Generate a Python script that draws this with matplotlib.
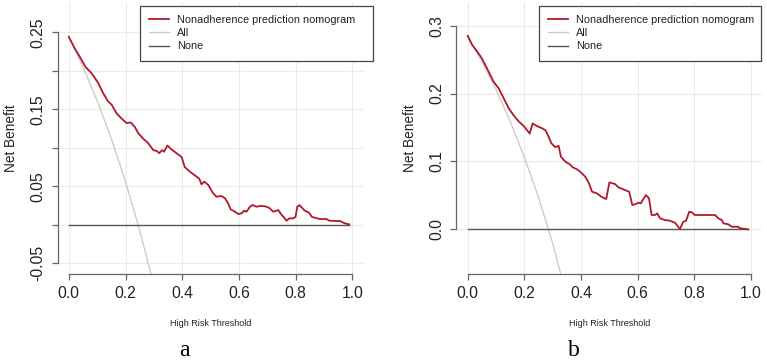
import matplotlib
matplotlib.use("Agg")
import matplotlib.pyplot as plt
import numpy as np

plt.rcParams['font.family'] = ['Liberation Sans', 'DejaVu Sans']

# ---------------- data ----------------
# Panel a
a_thr = [0.0, 0.021, 0.039, 0.059, 0.08, 0.104, 0.121, 0.139, 0.151, 0.168, 0.186, 0.204,
         0.218, 0.233, 0.245, 0.262, 0.28, 0.298, 0.31, 0.319, 0.329, 0.336, 0.348, 0.362,
         0.38, 0.398, 0.409, 0.427, 0.451, 0.46, 0.468, 0.478, 0.492, 0.509, 0.521, 0.539,
         0.551, 0.562, 0.571, 0.586, 0.598, 0.61, 0.618, 0.627, 0.639, 0.648, 0.662, 0.674,
         0.686, 0.698, 0.709, 0.721, 0.733, 0.739, 0.751, 0.759, 0.768, 0.778, 0.792, 0.80,
         0.806, 0.813, 0.821, 0.833, 0.848, 0.857, 0.868, 0.886, 0.909, 0.919, 0.945, 0.957,
         0.966, 0.974, 0.989]
a_model = [0.244, 0.229, 0.218, 0.205, 0.197, 0.184, 0.171, 0.160, 0.156, 0.145, 0.138, 0.132,
           0.133, 0.127, 0.119, 0.112, 0.106, 0.097, 0.096, 0.093, 0.097, 0.095, 0.103, 0.098,
           0.093, 0.088, 0.075, 0.069, 0.0625, 0.060, 0.0526, 0.056, 0.0517, 0.041, 0.0365, 0.0374,
           0.0344, 0.0279, 0.0201, 0.017, 0.014, 0.015, 0.0183, 0.017, 0.0235, 0.0257, 0.0235, 0.0244,
           0.0244, 0.0235, 0.0214, 0.017, 0.0183, 0.0192, 0.0127, 0.0097, 0.0053, 0.0084, 0.0084, 0.0105,
           0.0235, 0.0257, 0.0227, 0.0183, 0.0157, 0.0105, 0.0092, 0.0075, 0.0075, 0.0053, 0.0049, 0.0049,
           0.0032, 0.0019, 0.0006]
a_all_thr = [0.0, 0.05, 0.10, 0.15, 0.20, 0.25, 0.30]
a_all = [0.245, 0.205, 0.161, 0.112, 0.056, -0.007, -0.079]

# Panel b
b_thr = [0.0, 0.015, 0.033, 0.05, 0.068, 0.092, 0.109, 0.127, 0.145, 0.162, 0.18, 0.198,
         0.219, 0.229, 0.245, 0.262, 0.274, 0.283, 0.295, 0.309, 0.321, 0.329, 0.345, 0.359,
         0.371, 0.386, 0.397, 0.415, 0.427, 0.439, 0.456, 0.472, 0.489, 0.50, 0.52, 0.532,
         0.549, 0.57, 0.581, 0.594, 0.602, 0.611, 0.62, 0.629, 0.64, 0.649, 0.661, 0.669,
         0.679, 0.696, 0.714, 0.732, 0.749, 0.761, 0.771, 0.782, 0.791, 0.802, 0.82, 0.873,
         0.885, 0.897, 0.903, 0.92, 0.932, 0.955, 0.961, 0.99]
b_model = [0.285, 0.272, 0.262, 0.252, 0.237, 0.217, 0.208, 0.193, 0.178, 0.168, 0.159, 0.152,
           0.141, 0.156, 0.152, 0.149, 0.146, 0.139, 0.127, 0.121, 0.123, 0.107, 0.0996, 0.0962,
           0.0913, 0.0884, 0.0849, 0.0775, 0.0687, 0.0554, 0.053, 0.048, 0.0446, 0.0692, 0.0667, 0.0619,
           0.0589, 0.0554, 0.0358, 0.0373, 0.0392, 0.0383, 0.0446, 0.0505, 0.0457, 0.0211, 0.0211, 0.0236,
           0.0162, 0.0137, 0.0127, 0.0097, 0.0004, 0.0112, 0.0127, 0.0259, 0.025, 0.0211, 0.0211, 0.0211,
           0.0162, 0.0137, 0.0088, 0.0074, 0.0038, 0.0038, 0.0015, 0.0]
b_all_thr = [0.0, 0.05, 0.10, 0.15, 0.20, 0.25, 0.30, 0.35]
b_all = [0.285, 0.247, 0.206, 0.159, 0.106, 0.047, -0.021, -0.10]

none_thr = [0.0, 0.99]
none_val = [0.0, 0.0]

x_ticks = [0.0, 0.2, 0.4, 0.6, 0.8, 1.0]
a_yticks = [-0.05, 0.0, 0.05, 0.10, 0.15, 0.20, 0.25]
a_ylabels = ['-0.05', '', '0.05', '', '0.15', '', '0.25']
b_yticks = [0.0, 0.1, 0.2, 0.3]
b_ylabels = ['0.0', '0.1', '0.2', '0.3']

legend_labels = ['Nonadherence prediction nomogram', 'All', 'None']

# ---------------- figure ----------------
W, H = 767, 360
fig = plt.figure(figsize=(W / 100, H / 100), dpi=100)

RED = '#B2182B'
ALLC = '#C8C8C8'
NONEC = '#555555'
AXC = '#666666'
GRIDC = '#EBEBEB'


def px_axes(l, r, t, b):
    return fig.add_axes([l / W, 1 - b / H, (r - l) / W, (b - t) / H])


def style(ax, ylim, yticks, ylabels, ybounds):
    ax.set_xlim(-0.04, 1.04)
    ax.set_ylim(*ylim)
    ax.set_xticks(x_ticks)
    ax.set_xticklabels([f'{v:.1f}' for v in x_ticks])
    ax.set_yticks(yticks)
    ax.set_yticklabels(ylabels, rotation=90, va='center')
    for s in ['top', 'right']:
        ax.spines[s].set_visible(False)
    for s in ['left', 'bottom']:
        ax.spines[s].set_color(AXC)
        ax.spines[s].set_linewidth(0.9)
    ax.spines['bottom'].set_bounds(0, 1)
    ax.spines['left'].set_bounds(*ybounds)
    ax.tick_params(axis='both', direction='out', length=4.5, width=0.9, color=AXC,
                   labelsize=11.3, labelcolor='#222222')
    ax.tick_params(axis='x', pad=4)
    ax.tick_params(axis='y', pad=4)
    ax.grid(True, color=GRIDC, linewidth=0.8)
    ax.set_axisbelow(True)
    ax.set_xlabel('High Risk Threshold', fontsize=6.5, color='#222222', labelpad=13)
    ax.set_ylabel('Net Benefit', fontsize=9.8, color='#222222')


def draw(ax, thr, model, all_thr, all_v):
    l1, = ax.plot(thr, model, color=RED, linewidth=1.3, zorder=4)
    l2, = ax.plot(all_thr, all_v, color=ALLC, linewidth=0.9, zorder=3)
    l3, = ax.plot(none_thr, none_val, color=NONEC, linewidth=1.0, zorder=3)
    return [l1, l2, l3]


# Panel a
axa = px_axes(57.5, 363.6, 2, 274)
style(axa, (-0.0639, 0.2894), a_yticks, a_ylabels, (-0.05, 0.25))
ha = draw(axa, a_thr, a_model, a_all_thr, a_all)
axa.yaxis.set_label_coords((17.5 - 57.5) / (363.6 - 57.5), 0.5)

# Panel b
axb = px_axes(456.4, 762.3, 2, 274)
style(axb, (-0.0658, 0.3349), b_yticks, b_ylabels, (0.0, 0.3))
hb = draw(axb, b_thr, b_model, b_all_thr, b_all)
axb.yaxis.set_label_coords((417 - 456.4) / (762.3 - 456.4), 0.5)


def add_legend(ax, handles, x0, x1):
    leg = ax.legend(handles, legend_labels, loc='upper left',
                    bbox_to_anchor=(x0 / W, 1 - 5.7 / H, (x1 - x0) / W, 0.0),
                    bbox_transform=fig.transFigure, mode='expand',
                    fontsize=7.8, frameon=True, fancybox=False, framealpha=1,
                    edgecolor='#444444', handlelength=1.8, handletextpad=0.75,
                    labelspacing=0.3, borderpad=0.85, borderaxespad=0)
    leg.get_frame().set_linewidth(0.9)
    for t in leg.get_texts():
        t.set_color('#222222')
    leg.set_zorder(10)
    return leg


add_legend(axa, ha, 140, 373)
add_legend(axb, hb, 539, 761)

fig.text(184 / W, 1 - 351 / H, 'a', fontsize=17, family=['Liberation Serif', 'DejaVu Serif'],
         ha='center', va='center')
fig.text(574 / W, 1 - 350 / H, 'b', fontsize=17, family=['Liberation Serif', 'DejaVu Serif'],
         ha='center', va='center')

fig.savefig('out.png', dpi=100)
